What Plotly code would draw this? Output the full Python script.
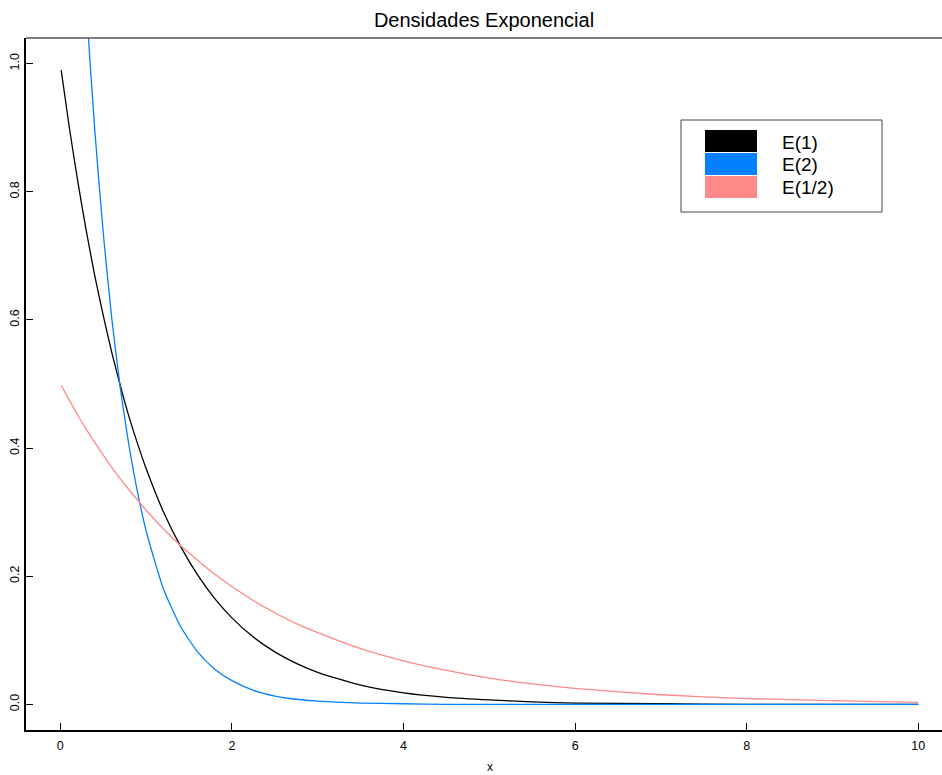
import plotly.graph_objects as go

# ---- data ----
x_vals = [0.01, 0.1, 0.2, 0.3, 0.4, 0.5, 0.6, 0.7, 0.8, 0.9, 1.0, 1.2, 1.4, 1.6, 1.8,
          2.0, 2.25, 2.5, 2.75, 3.0, 3.5, 4.0, 4.5, 5.0, 5.5, 6.0, 7.0, 8.0, 9.0, 10.0]
e1_vals = [0.990, 0.905, 0.819, 0.741, 0.670, 0.607, 0.549, 0.497, 0.449, 0.407, 0.368,
           0.301, 0.247, 0.202, 0.165, 0.135, 0.105, 0.082, 0.064, 0.050, 0.030, 0.018,
           0.011, 0.007, 0.004, 0.002, 0.001, 0.000, 0.000, 0.000]
e2_vals = [1.960, 1.637, 1.341, 1.098, 0.899, 0.736, 0.602, 0.493, 0.404, 0.331, 0.271,
           0.181, 0.122, 0.082, 0.055, 0.037, 0.022, 0.013, 0.008, 0.005, 0.002, 0.001,
           0.000, 0.000, 0.000, 0.000, 0.000, 0.000, 0.000, 0.000]
ehalf_vals = [0.498, 0.476, 0.452, 0.430, 0.409, 0.389, 0.370, 0.352, 0.335, 0.319, 0.303,
              0.274, 0.248, 0.225, 0.203, 0.184, 0.162, 0.143, 0.126, 0.112, 0.087, 0.068,
              0.053, 0.041, 0.032, 0.025, 0.015, 0.009, 0.006, 0.003]
series_names = ["E(1)", "E(2)", "E(1/2)"]
series_colors = ["#000000", "#0080FF", "#FF8888"]
x_ticks = [0, 2, 4, 6, 8, 10]
y_ticks = [0.0, 0.2, 0.4, 0.6, 0.8, 1.0]
y_tick_labels = ["0.0", "0.2", "0.4", "0.6", "0.8", "1.0"]

W, H = 942, 775
L, R, T, B = 26, 0, 38, 45
FONT = "Liberation Sans, Arial, sans-serif"

fig = go.Figure()
for name, ys, col in zip(series_names, [e1_vals, e2_vals, ehalf_vals], series_colors):
    fig.add_trace(go.Scatter(x=x_vals, y=ys, mode="lines", name=name,
                             line=dict(color=col, width=1.3, shape="spline", smoothing=0.6),
                             showlegend=False))

def px_x(p):
    return (p - L) / (W - L - R)

def px_y(p):
    return (H - B - p) / (H - B - T)

shapes = []
annotations = []
# top border line
shapes.append(dict(type="line", xref="paper", yref="paper", x0=0, x1=1, y0=1, y1=1,
                   line=dict(color="#555555", width=1.5)))
# legend box
shapes.append(dict(type="rect", xref="paper", yref="paper",
                   x0=px_x(681), x1=px_x(882), y0=px_y(212), y1=px_y(120),
                   line=dict(color="#444444", width=1), fillcolor="white", layer="above"))
sw_tops = [130, 153, 176]
for i, (name, col) in enumerate(zip(series_names, series_colors)):
    t = sw_tops[i]
    shapes.append(dict(type="rect", xref="paper", yref="paper",
                       x0=px_x(705), x1=px_x(757), y0=px_y(t + 22), y1=px_y(t),
                       line=dict(width=0), fillcolor=col, layer="above"))
    annotations.append(dict(xref="paper", yref="paper", x=px_x(780), y=px_y(t + 12),
                            xanchor="left", yanchor="middle", text=name, showarrow=False,
                            font=dict(family=FONT, size=19, color="black")))
# x axis title
annotations.append(dict(xref="paper", yref="paper", x=px_x(490), y=px_y(767),
                        xanchor="center", yanchor="middle", text="x", showarrow=False,
                        font=dict(family=FONT, size=12, color="black")))

fig.update_layout(
    width=W, height=H,
    margin=dict(l=L, r=R, t=T, b=B, pad=0),
    plot_bgcolor="white", paper_bgcolor="white",
    title=dict(text="Densidades Exponencial", x=0.5, xref="paper", y=1 - 20 / H,
               yanchor="middle", xanchor="center",
               font=dict(family=FONT, size=20, color="black")),
    xaxis=dict(range=[-0.4, (W - R - L) / 85.8 - 0.4], tickvals=x_ticks, ticks="inside",
               ticklen=7, tickcolor="black", showline=True, linecolor="black", linewidth=1.5,
               showgrid=False, zeroline=False, ticklabelstandoff=3,
               tickfont=dict(family=FONT, size=12.5, color="black")),
    yaxis=dict(range=[-0.04, 1.04], tickvals=y_ticks, ticktext=y_tick_labels, ticks="inside",
               ticklen=7, tickcolor="black", showline=True, linecolor="black", linewidth=1.5,
               showgrid=False, zeroline=False, tickangle=-90,
               tickfont=dict(family=FONT, size=12.5, color="black")),
    shapes=shapes, annotations=annotations, showlegend=False,
)
fig.write_html("out.html", config={"displayModeBar": False},
               post_script="document.body.style.margin='0';document.body.style.overflow='hidden';")
